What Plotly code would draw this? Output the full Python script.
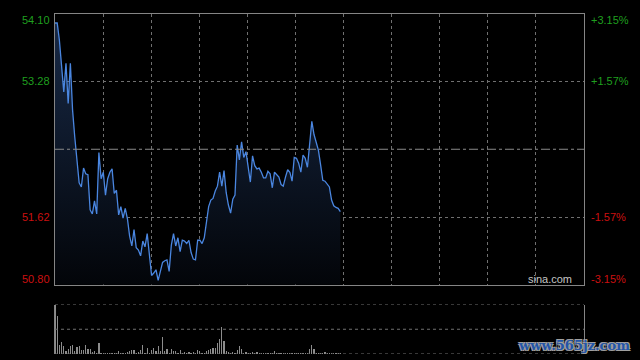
import plotly.graph_objects as go

# ---- data ----
prev_close = 52.45
price = [53.99, 53.99, 53.78, 53.48, 53.15, 53.50, 53.01, 53.50, 52.93, 52.60,
         52.32, 52.04, 51.99, 52.22, 52.15, 52.14, 51.71, 51.66, 51.82, 51.66,
         52.41, 52.09, 52.17, 51.89, 52.09, 52.17, 52.21, 51.91, 51.95, 51.65,
         51.75, 51.61, 51.73, 51.60, 51.39, 51.27, 51.47, 51.25, 51.22, 51.15,
         51.33, 51.26, 51.42, 51.15, 50.91, 50.94, 50.98, 50.85, 50.96, 51.07,
         51.09, 51.10, 50.96, 51.28, 51.42, 51.27, 51.37, 51.20, 51.34, 51.33,
         51.30, 51.34, 51.19, 51.11, 51.10, 51.34, 51.34, 51.30, 51.37, 51.55,
         51.75, 51.83, 51.85, 51.94, 52.00, 52.17, 52.00, 52.19, 51.92, 51.77,
         51.67, 51.84, 51.89, 52.50, 52.32, 52.54, 52.35, 52.42, 52.24, 52.05,
         52.37, 52.25, 52.21, 52.22, 52.17, 52.10, 52.10, 52.18, 52.15, 51.98,
         52.17, 52.14, 52.11, 52.02, 52.00, 52.11, 52.20, 52.17, 52.06, 52.35,
         52.34, 52.28, 52.17, 52.38, 52.34, 52.23, 52.52, 52.79, 52.63, 52.54,
         52.44, 52.26, 52.07, 52.06, 52.02, 51.99, 51.83, 51.76, 51.74, 51.73,
         51.69]

volume = [49, 38, 9, 12, 8, 3, 5, 8, 9, 3, 7, 8, 4, 4, 9, 5, 5, 2, 3, 1,
          11, 1, 1, 1, 1, 1, 0.5, 1, 0.5, 3, 1, 1, 1, 2, 3, 4, 4, 1, 2, 4,
          9, 1, 6, 1, 4, 6, 3, 8, 3, 17, 3, 5, 1, 5, 3, 3, 1, 4, 1, 2,
          1, 2, 1, 2, 1, 4, 3, 1, 1, 3, 4, 5, 6, 6, 11, 15, 27, 13, 3, 2,
          1, 2, 1, 4, 8, 5, 1, 2, 1, 1, 2, 1, 2, 1, 1, 1, 0.5, 1, 1, 1,
          3, 0.5, 1, 0.5, 1, 1, 0.5, 1, 1, 0.5, 1, 0.5, 1, 1, 1, 1, 5, 9, 5, 1,
          0.5, 1, 0.5, 2, 1, 0.5, 1, 1, 1, 0.5, 1]

total_points = 241
price_min, price_max = 50.80, 54.10
tick_prices = [54.10, 53.28, 51.62, 50.80]
left_labels = ["54.10", "53.28", "51.62", "50.80"]
right_labels = ["+3.15%", "+1.57%", "-1.57%", "-3.15%"]
label_colors = ["#1f9f1f", "#1f9f1f", "#cc1010", "#cc1010"]

minutes = list(range(len(price)))
vol_minutes = list(range(len(volume)))
vol_max = max(volume)

GRID = "#707070"
BORDER = "#858585"

fig = go.Figure()
fig.add_trace(go.Scatter(
    x=minutes, y=price, mode="lines",
    line=dict(color="#4a86e0", width=1.3),
    fill="tozeroy",
    fillgradient=dict(type="vertical", start=price_min, stop=price_max,
                      colorscale=[[0, "rgb(3,5,9)"], [1, "rgb(24,42,72)"]]),
    hoverinfo="skip", xaxis="x", yaxis="y"))
fig.add_trace(go.Bar(
    x=vol_minutes, y=volume, width=0.55,
    marker=dict(color="#8c8c8c", line=dict(width=0)),
    hoverinfo="skip", xaxis="x2", yaxis="y2"))

price_bottom = (354 - 284.5) / 340
vol_top = (354 - 304.5) / 340

fig.update_layout(
    width=640, height=360,
    paper_bgcolor="black", plot_bgcolor="black",
    margin=dict(l=55, r=56, t=14, b=6),
    showlegend=False, bargap=0,
    xaxis=dict(domain=[0, 1], range=[0, total_points], anchor="y",
               showgrid=True, gridcolor=GRID, griddash="dot", gridwidth=1,
               tick0=0, dtick=total_points / 11, showticklabels=False, ticks="",
               showline=True, linecolor=BORDER, linewidth=1, mirror=True,
               zeroline=False),
    yaxis=dict(domain=[price_bottom, 1], range=[price_min, price_max], anchor="x",
               tickvals=[tick_prices[1], tick_prices[2]],
               showgrid=True, gridcolor=GRID, griddash="dot", gridwidth=1,
               showticklabels=False, ticks="",
               showline=True, linecolor=BORDER, linewidth=1, mirror=True,
               zeroline=False),
    xaxis2=dict(domain=[0, 1], range=[0, total_points], anchor="y2",
                showgrid=False, showticklabels=False, ticks="",
                showline=False, zeroline=False),
    yaxis2=dict(domain=[0, vol_top], range=[0, vol_max], anchor="x2",
                showgrid=False, showticklabels=False, ticks="",
                showline=True, linecolor=BORDER, linewidth=1, mirror=True,
                zeroline=False),
)

shapes = [dict(type="line", xref="paper", x0=0, x1=1, yref="y",
               y0=prev_close, y1=prev_close,
               line=dict(color="#8a8a8a", width=1, dash="dashdot"))]
for v in [0, vol_max / 2, vol_max]:
    shapes.append(dict(type="line", xref="paper", x0=0, x1=1, yref="y2",
                       y0=v, y1=v, line=dict(color=GRID, width=1.2, dash="dot")))
fig.update_layout(shapes=shapes)

ann = []
shifts = [-6, 0, 0, 6]
for p, lt, rt, c, s in zip(tick_prices, left_labels, right_labels, label_colors, shifts):
    ann.append(dict(xref="paper", x=0, xanchor="right", xshift=-3,
                    yref="y", y=p, yanchor="middle", yshift=s,
                    text=lt, showarrow=False,
                    font=dict(family="Liberation Sans, Arial", size=11, color=c)))
    ann.append(dict(xref="paper", x=1, xanchor="left", xshift=5,
                    yref="y", y=p, yanchor="middle", yshift=s,
                    text=rt, showarrow=False,
                    font=dict(family="Liberation Sans, Arial", size=11, color=c)))
ann.append(dict(xref="paper", x=1, xanchor="right", xshift=-10,
                yref="paper", y=price_bottom, yanchor="middle", yshift=6,
                text="sina.com", showarrow=False,
                font=dict(family="Liberation Sans, Arial", size=11, color="#c4c4c4")))
ann.append(dict(xref="paper", x=(516 - 55) / 529, xanchor="left",
                yref="paper", y=(354 - 345) / 340, yanchor="middle",
                text="<b>www.565jz.com</b>", showarrow=False,
                font=dict(family="DejaVu Serif", size=13, color="#2355a8",
                          shadow="-1px -1px 0 #a0a0a0, 1px -1px 0 #a0a0a0, -1px 1px 0 #a0a0a0, 1px 1px 0 #a0a0a0")))
fig.update_layout(annotations=ann)

fig.write_html("out.html",
               config={"displayModeBar": False, "staticPlot": True},
               post_script="document.body.style.margin='0';document.body.style.background='black';")
